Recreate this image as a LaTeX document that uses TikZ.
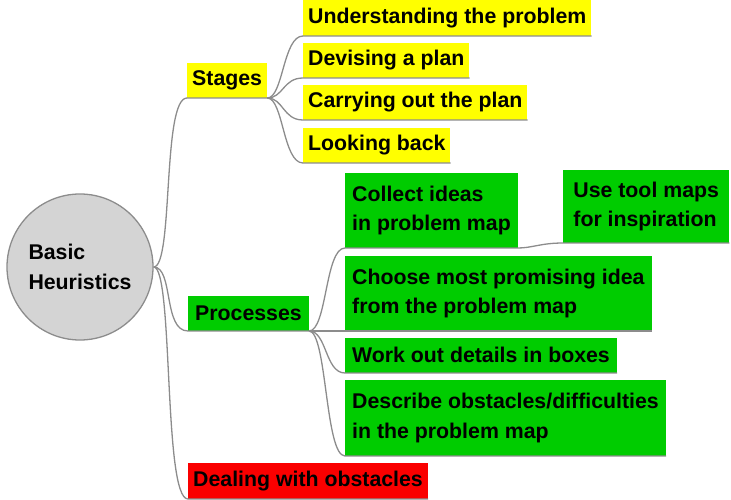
\documentclass[tikz,border=0pt]{standalone}
\usepackage{fontspec}
\setmainfont{Liberation Sans}
\definecolor{mapyellow}{RGB}{255,255,0}
\definecolor{mapgreen}{RGB}{0,204,0}
\definecolor{mapred}{RGB}{250,0,0}
\definecolor{rootgray}{RGB}{212,212,212}
\definecolor{linegray}{RGB}{140,140,140}
\begin{document}
\begin{tikzpicture}[x=1pt,y=-1pt,
    every node/.style={font=\fontsize{21.3}{29.5}\bfseries\selectfont,text=black},
    topic/.style={anchor=south west,inner xsep=5pt,inner ysep=0pt,minimum height=35pt},
    stagebox/.style={topic,fill=mapyellow},
    procbox/.style={topic,fill=mapgreen,inner xsep=7pt,align=left},
    twoline/.style={minimum height=75pt},
    obstbox/.style={topic,fill=mapred,minimum height=36pt},
    branch/.style={draw=linegray,line width=1.3pt}]
  \useasboundingbox (0,0) rectangle (731,500);
  % central topic
  \node[circle,fill=rootgray,draw=linegray,line width=1.3pt,minimum size=146pt,
        inner sep=0pt,align=left] (root) at (80,267) {Basic\\Heuristics};
  % first level
  \node[stagebox] (stages) at (187,98) {Stages};
  \node[procbox] (processes) at (188,331) {Processes};
  \node[obstbox] (dealing) at (188,499) {Dealing with obstacles};
  % stages
  \node[stagebox,minimum height=36pt] (understand) at (303,36) {Understanding the problem};
  \node[stagebox] (devising) at (303,78) {Devising a plan};
  \node[stagebox] (carrying) at (303,120) {Carrying out the plan};
  \node[stagebox] (looking) at (303,163) {Looking back};
  % processes
  \node[procbox,twoline] (collect) at (345,248) {Collect ideas\\in problem map};
  \node[procbox,twoline,minimum height=73pt,minimum width=166pt] (usetool) at (563,243) {Use tool maps\\for inspiration};
  \node[procbox,twoline] (choose) at (345,331) {Choose most promising idea\\from the problem map};
  \node[procbox] (workout) at (345,373) {Work out details in boxes};
  \node[procbox,twoline,minimum height=76pt] (describe) at (345,456) {Describe obstacles/difficulties\\in the problem map};
  % connectors
  \foreach \n in {stages,processes,dealing}
    \draw[branch] (root.east) .. controls +(20,0) and +(-25,0) .. (\n.south west) -- (\n.south east);
  \foreach \n in {understand,devising,carrying,looking}
    \draw[branch] (stages.south east) .. controls +(16,0) and +(-20,0) .. (\n.south west) -- (\n.south east);
  \foreach \n in {collect,choose,workout,describe}
    \draw[branch] (processes.south east) .. controls +(18,0) and +(-20,0) .. (\n.south west) -- (\n.south east);
  \draw[branch] (collect.south east) .. controls +(14,0) and +(-22,0) .. (usetool.south west) -- (usetool.south east);
\end{tikzpicture}
\end{document}
